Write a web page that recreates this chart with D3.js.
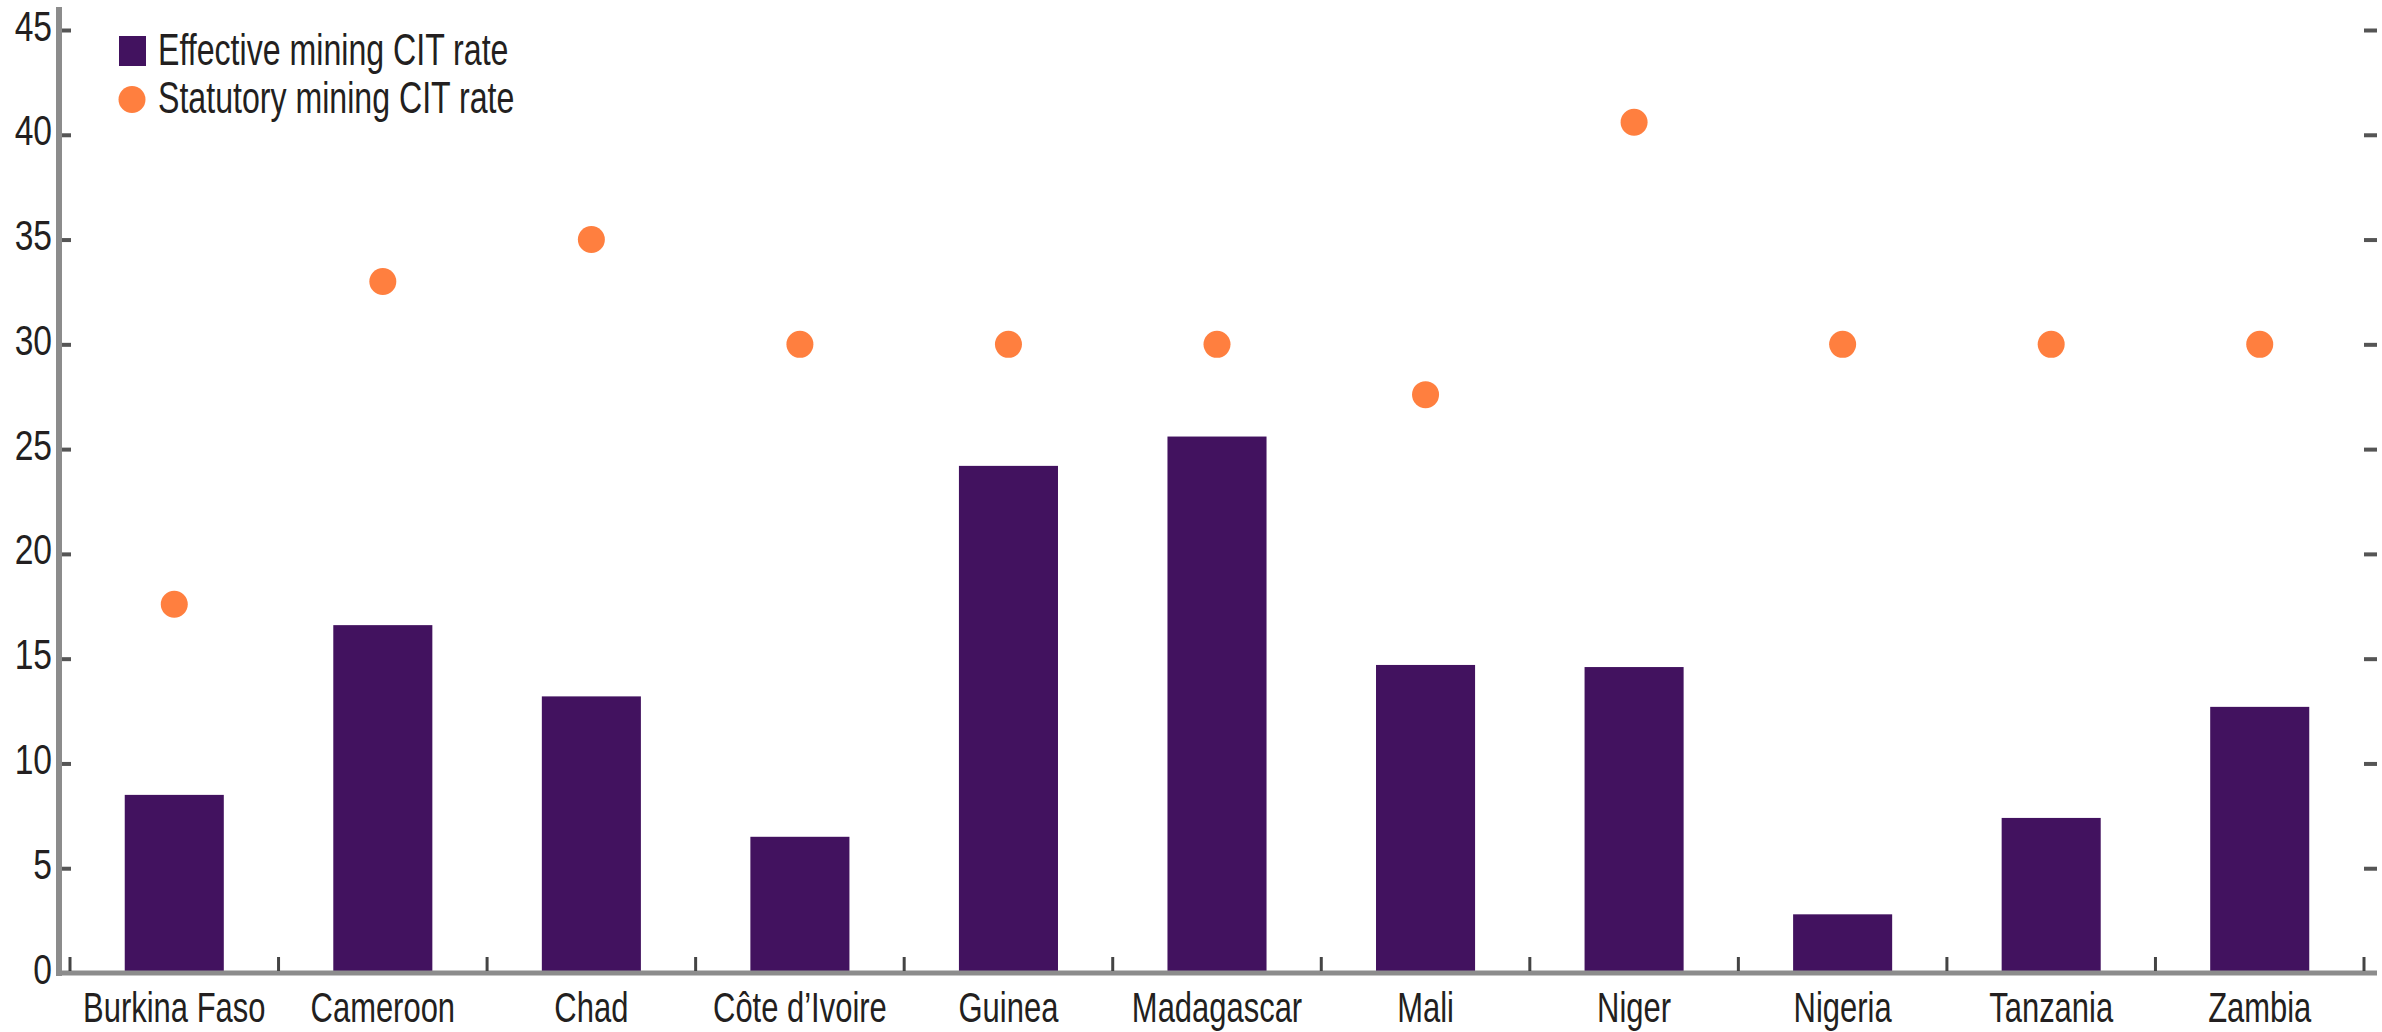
<!DOCTYPE html>
<html>
<head>
<meta charset="utf-8">
<script src="https://cdn.jsdelivr.net/npm/d3@7"></script>
<style>
  html, body { margin: 0; padding: 0; background: #fff; }
  svg { display: block; }
  text { font-family: "Liberation Sans", Arial, sans-serif; fill: #231f20; }
</style>
</head>
<body>
<svg id="chart" width="2382" height="1032"></svg>
<script>
// values
var countries = ["Burkina Faso", "Cameroon", "Chad", "C\u00f4te d\u2019Ivoire", "Guinea",
                 "Madagascar", "Mali", "Niger", "Nigeria", "Tanzania", "Zambia"];
var effective = [8.5, 16.6, 13.2, 6.5, 24.2, 25.6, 14.7, 14.6, 2.8, 7.4, 12.7];
var statutory = [17.6, 33, 35, 30, 30, 30, 27.6, 40.6, 30, 30, 30];
var yTicks = [0, 5, 10, 15, 20, 25, 30, 35, 40, 45];
var legendLabels = ["Effective mining CIT rate", "Statutory mining CIT rate"];

var barColor = "#42125f",
    dotColor = "#ff7f3f",
    axisGrey = "#8c8c8c";

// the reference uses a condensed face; squeeze the regular one
var narrow = 0.72;

var svg = d3.select("#chart");

var plotLeft = 59, plotRight = 2377, plotBottom = 973, plotTop = 30;

var x = d3.scaleBand()
    .domain(countries)
    .range([70, 2364])
    .paddingInner(0.525)
    .paddingOuter(0.2625);

var y = d3.scaleLinear()
    .domain([0, 45])
    .range([plotBottom, plotTop]);

/* bars */
svg.append("g").selectAll("rect")
    .data(countries)
    .enter().append("rect")
    .attr("x", function(d) { return x(d); })
    .attr("y", function(d, i) { return y(effective[i]); })
    .attr("width", x.bandwidth())
    .attr("height", function(d, i) { return y(0) - y(effective[i]); })
    .style("fill", barColor);

/* left axis: inward ticks, labels outside */
var yAxisL = svg.append("g")
    .attr("transform", "translate(" + plotLeft + ",0)")
    .call(d3.axisLeft(y).tickValues(yTicks).tickSize(-12).tickPadding(7));
yAxisL.select(".domain").remove();
yAxisL.selectAll(".tick line").attr("stroke", "#555").attr("stroke-width", 4);
yAxisL.selectAll(".tick text")
    .attr("x", 0)
    .attr("dy", "0.24em")
    .attr("transform", "translate(-7,0) scale(0.8,1)")
    .style("font-family", "'Liberation Sans', Arial, sans-serif")
    .style("font-size", "42px")
    .style("fill", "#231f20");
yAxisL.selectAll(".tick").filter(function(d) { return d === 0; }).select("line").remove();

/* right axis: ticks only, pointing left */
var yAxisR = svg.append("g")
    .attr("transform", "translate(" + plotRight + ",0)")
    .call(d3.axisRight(y).tickValues(yTicks).tickSize(-13).tickFormat(""));
yAxisR.select(".domain").remove();
yAxisR.selectAll(".tick line").attr("stroke", "#555").attr("stroke-width", 4);
yAxisR.selectAll(".tick").filter(function(d) { return d === 0; }).remove();

/* axis lines */
svg.append("line")
    .attr("x1", plotLeft).attr("x2", plotLeft)
    .attr("y1", 7).attr("y2", plotBottom + 3)
    .attr("stroke", axisGrey).attr("stroke-width", 6);
svg.append("line")
    .attr("x1", plotLeft - 3).attr("x2", plotRight)
    .attr("y1", plotBottom).attr("y2", plotBottom)
    .attr("stroke", axisGrey).attr("stroke-width", 5);

/* category boundary ticks */
var gap = (x.step() - x.bandwidth()) / 2;
var bounds = countries.map(function(d) { return x(d) - gap; });
bounds.push(x(countries[countries.length - 1]) + x.bandwidth() + gap);
svg.append("g").selectAll("line")
    .data(bounds)
    .enter().append("line")
    .attr("x1", function(d) { return d; })
    .attr("x2", function(d) { return d; })
    .attr("y1", plotBottom - 16).attr("y2", plotBottom - 2)
    .attr("stroke", "#444").attr("stroke-width", 3);

/* category labels */
svg.append("g").selectAll("text")
    .data(countries)
    .enter().append("text")
    .attr("transform", function(d) {
        return "translate(" + (x(d) + x.bandwidth() / 2) + ",1022) scale(" + narrow + ",1)";
    })
    .attr("text-anchor", "middle")
    .style("font-size", "43px")
    .text(function(d) { return d; });

/* statutory dots */
svg.append("g").selectAll("circle")
    .data(countries)
    .enter().append("circle")
    .attr("cx", function(d) { return x(d) + x.bandwidth() / 2; })
    .attr("cy", function(d, i) { return y(statutory[i]); })
    .attr("r", 13.5)
    .style("fill", dotColor);

/* legend */
var legend = svg.append("g");
legend.append("rect")
    .attr("x", 119).attr("y", 36)
    .attr("width", 27).attr("height", 30)
    .style("fill", barColor);
legend.append("circle")
    .attr("cx", 132).attr("cy", 99.5).attr("r", 13.5)
    .style("fill", dotColor);
legend.selectAll("text")
    .data(legendLabels)
    .enter().append("text")
    .attr("transform", function(d, i) {
        return "translate(158," + (i === 0 ? 65 : 113) + ") scale(0.73,1)";
    })
    .style("font-size", "44px")
    .text(function(d) { return d; });
</script>
</body>
</html>
